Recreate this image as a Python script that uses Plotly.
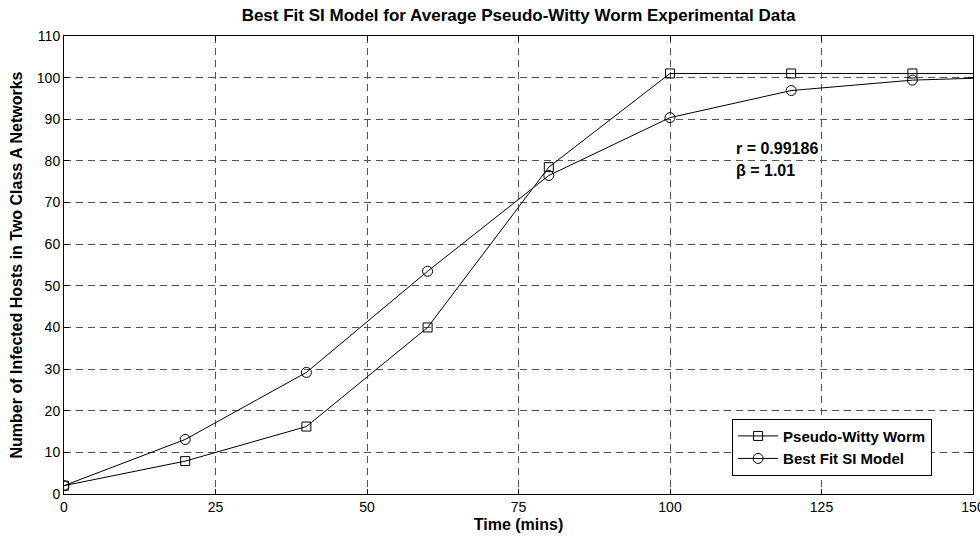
import plotly.graph_objects as go

# Data
time_mins = [0, 20, 40, 60, 80, 100, 120, 140, 160]
worm_hosts = [2, 7.9, 16.2, 40.0, 78.5, 101, 101, 101, 101]
model_hosts = [2, 13.1, 29.2, 53.5, 76.5, 90.4, 96.9, 99.4, 100.3]
series_names = ["Pseudo-Witty Worm", "Best Fit SI Model"]
x_ticks = [0, 25, 50, 75, 100, 125, 150]
y_ticks = [0, 10, 20, 30, 40, 50, 60, 70, 80, 90, 100, 110]
fit_text = ["r = 0.99186", "β = 1.01"]

FONT = "Arial, Liberation Sans, sans-serif"

fig = go.Figure()
fig.add_trace(go.Scatter(
    x=time_mins, y=worm_hosts, name=series_names[0], mode="lines+markers",
    line=dict(color="black", width=1),
    marker=dict(symbol="square-open", size=9, color="black", line=dict(width=1)),
))
fig.add_trace(go.Scatter(
    x=time_mins, y=model_hosts, name=series_names[1], mode="lines+markers",
    line=dict(color="black", width=1),
    marker=dict(symbol="circle-open", size=10, color="black", line=dict(width=1)),
))

fig.add_annotation(x=110.5, y=83, xref="x", yref="y", text="<b>" + fit_text[0] + "</b>",
                   showarrow=False, xanchor="left", yanchor="middle",
                   font=dict(family=FONT, size=16, color="black"))
fig.add_annotation(x=110.5, y=77.7, xref="x", yref="y", text="<b>" + fit_text[1] + "</b>",
                   showarrow=False, xanchor="left", yanchor="middle",
                   font=dict(family=FONT, size=16, color="black"))

axis_common = dict(
    showline=True, linecolor="black", linewidth=1, mirror="ticks",
    ticks="inside", ticklen=5, tickcolor="black",
    showgrid=True, gridcolor="#555555", gridwidth=1, griddash="7px,5px",
    zeroline=False, tickfont=dict(family=FONT, size=14, color="black"),
)

fig.update_layout(
    width=980, height=539,
    margin=dict(l=64, r=7, t=36, b=45),
    paper_bgcolor="white", plot_bgcolor="white",
    title=dict(text="<b>Best Fit SI Model for Average Pseudo-Witty Worm Experimental Data</b>",
               x=0.5, xref="paper", y=1 - 15 / 539, yref="container", yanchor="middle",
               font=dict(family=FONT, size=17, color="black")),
    xaxis=dict(range=[0, 150], tickvals=x_ticks, ticktext=[str(v) for v in x_ticks],
               ticklabeloverflow="allow", automargin=False,
               title=dict(text="<b>Time (mins)</b>", standoff=5,
                          font=dict(family=FONT, size=16, color="black")),
               **axis_common),
    yaxis=dict(range=[0, 110], tickvals=y_ticks, automargin=False,
               title=dict(text="<b>Number of Infected Hosts in Two Class A Networks</b>", standoff=10,
                          font=dict(family=FONT, size=16, color="black", weight="bold")),
               **axis_common),
    legend=dict(x=0.955, y=0.04, xanchor="right", yanchor="bottom",
                bgcolor="white", bordercolor="black", borderwidth=1,
                font=dict(family=FONT, size=15, color="black", weight="bold"),
                tracegroupgap=0, itemwidth=40),
    showlegend=True,
)

fig.write_html("out.html")
